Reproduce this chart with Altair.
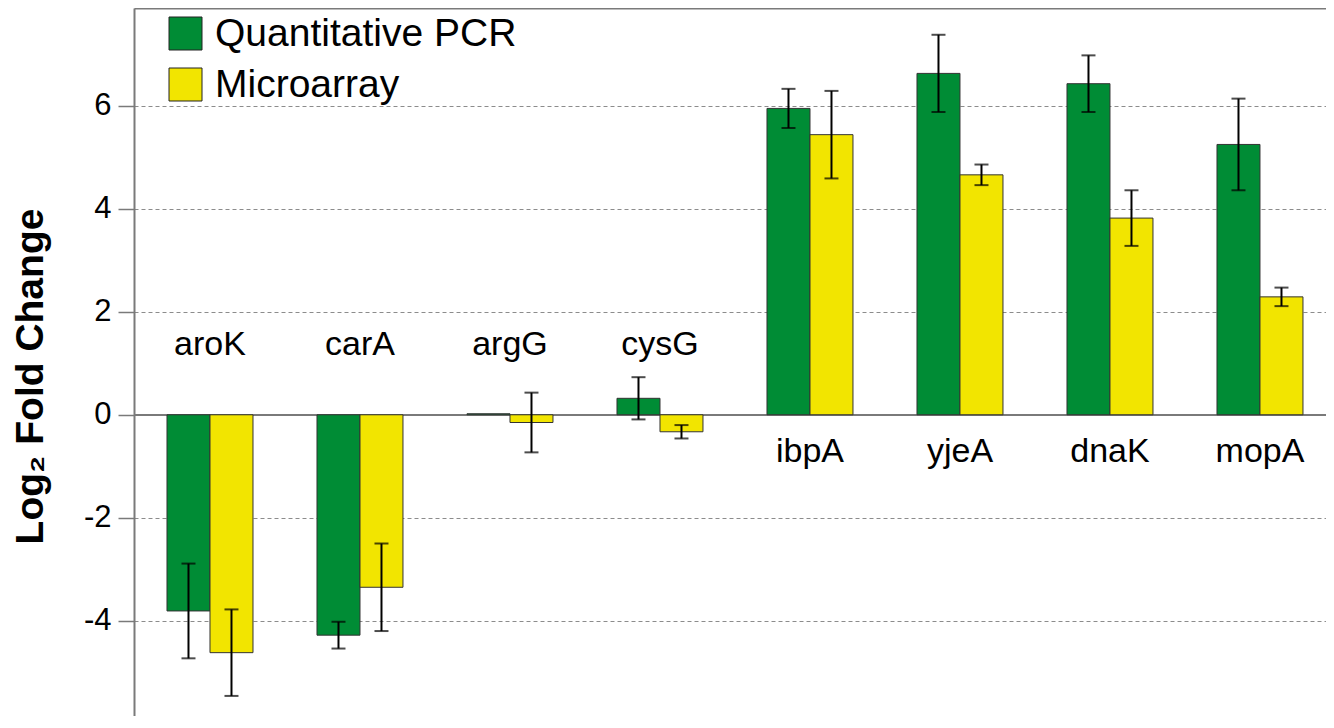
import altair as alt
import pandas as pd

genes = ["aroK", "carA", "argG", "cysG", "ibpA", "yjeA", "dnaK", "mopA"]
series_names = ["Quantitative PCR", "Microarray"]
qpcr = [-3.81, -4.28, 0.02, 0.32, 5.95, 6.63, 6.43, 5.25]
qpcr_err = [0.92, 0.26, 0.0, 0.41, 0.38, 0.75, 0.55, 0.89]
micro = [-4.62, -3.35, -0.15, -0.33, 5.44, 4.66, 3.82, 2.29]
micro_err = [0.84, 0.85, 0.58, 0.13, 0.85, 0.20, 0.54, 0.18]
y_ticks = [-4, -2, 0, 2, 4, 6]
colors = ["#008c35", "#f2e500"]

rows = []
for g, v, e in zip(genes, qpcr, qpcr_err):
    rows.append({"gene": g, "series": series_names[0], "value": v, "err": e})
for g, v, e in zip(genes, micro, micro_err):
    rows.append({"gene": g, "series": series_names[1], "value": v, "err": e})
df = pd.DataFrame(rows)

FONT = "Liberation Sans"

x_enc = alt.X(
    "gene:N",
    sort=genes,
    scale=alt.Scale(paddingInner=0.4267, paddingOuter=0.1867, align=0.589),
    axis=alt.Axis(orient="top", labels=False, ticks=False, title=None,
                  domainColor="#7a7a7a", domainWidth=2, grid=False),
)
xo_enc = alt.XOffset("series:N", sort=series_names,
                     scale=alt.Scale(paddingInner=0, paddingOuter=0))
y_scale = alt.Scale(domain=[-5.85, 7.9], nice=False, zero=False)

base = alt.Chart(df)

bars = base.mark_bar(stroke="#333333", strokeWidth=1).encode(
    x=x_enc,
    xOffset=xo_enc,
    y=alt.Y(
        "value:Q",
        scale=y_scale,
        axis=alt.Axis(
            values=y_ticks,
            labelExpr="datum.value + ''",
            title="Log₂ Fold Change",
            titleFont=FONT, titleFontSize=39, titleFontWeight="bold",
            titleColor="black", titleAngle=270, titleAlign="center",
            titleBaseline="alphabetic", titleX=-92, titleY=368,
            labelFont=FONT, labelFontSize=31, labelColor="black",
            labelPadding=7, tickSize=16, tickColor="#7a7a7a", tickWidth=1.5,
            domainColor="#7a7a7a", domainWidth=2,
            grid=True, gridColor="#8c8c8c", gridDash=[4, 3], gridWidth=1,
        ),
    ),
    y2=alt.datum(0),
    color=alt.Color(
        "series:N",
        sort=series_names,
        scale=alt.Scale(domain=series_names, range=colors),
        legend=alt.Legend(
            orient="none", legendX=32, legendY=6, title=None,
            symbolType="square", symbolSize=1089, symbolStrokeColor="#222222",
            symbolStrokeWidth=1, symbolOpacity=1,
            labelFont=FONT, labelFontSize=39, labelColor="black",
            labelOffset=10, rowPadding=11, padding=0, labelLimit=500,
        ),
    ),
)

err_base = base.transform_filter("datum.err > 0").transform_calculate(
    lo="datum.value - datum.err", hi="datum.value + datum.err"
)

err_rules = err_base.mark_rule(color="black", strokeWidth=2).encode(
    x=alt.X("gene:N", sort=genes),
    xOffset=xo_enc,
    y=alt.Y("lo:Q", scale=y_scale),
    y2="hi:Q",
)
cap_lo = err_base.mark_tick(color="black", size=14, thickness=2).encode(
    x=alt.X("gene:N", sort=genes),
    xOffset=xo_enc,
    y=alt.Y("lo:Q", scale=y_scale),
)
cap_hi = err_base.mark_tick(color="black", size=14, thickness=2).encode(
    x=alt.X("gene:N", sort=genes),
    xOffset=xo_enc,
    y=alt.Y("hi:Q", scale=y_scale),
)

zero_rule = alt.Chart(df).mark_rule(color="#7a7a7a", strokeWidth=1.5).encode(
    y=alt.Y("z:Q", scale=y_scale)
).transform_calculate(z="0")

labels = (
    base.transform_filter(alt.datum.series == series_names[0])
    .transform_calculate(ly="datum.value > 2 ? -0.72 : 1.36")
    .mark_text(font=FONT, fontSize=34, color="black", align="center", baseline="middle")
    .encode(
        x=alt.X("gene:N", sort=genes),
        y=alt.Y("ly:Q", scale=y_scale),
        text="gene:N",
    )
)

chart = (
    alt.layer(zero_rule, bars, err_rules, cap_lo, cap_hi, labels)
    .properties(
        width=1192,
        height=708,
        autosize=alt.AutoSizeParams(type="none"),
        padding={"left": 126, "top": 0, "right": 0, "bottom": 0},
        background="white",
    )
    .configure_view(strokeWidth=0)
)

chart.save("out.html", embed_options={"renderer": "svg", "actions": False})
